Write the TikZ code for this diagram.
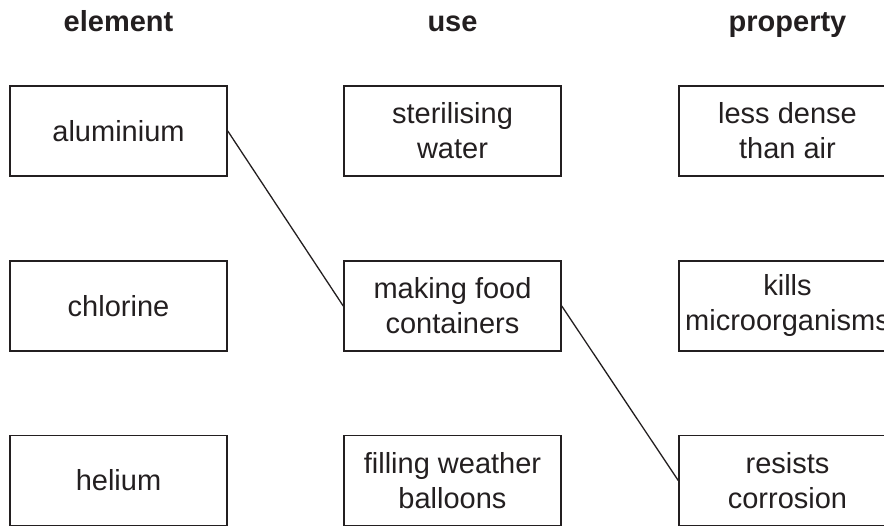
\documentclass[tikz,border=0pt]{standalone}
\usepackage{fontspec}
\setmainfont{Liberation Sans}
\definecolor{ink}{HTML}{231F20}
\begin{document}
\begin{tikzpicture}[x=1pt,y=-1pt,
  box/.style={draw=ink,line width=1.5pt,minimum width=217pt,minimum height=90pt,
    inner sep=0pt,align=center,font=\fontsize{29}{35}\selectfont,text=ink},
  head/.style={anchor=base,font=\fontsize{29}{35}\selectfont\bfseries,text=ink},
  link/.style={draw=ink,line width=1.3pt}]
\useasboundingbox (0,0) rectangle (884,526);
\node[head] (h1) at (118.5,32) {element};
\node[head] (h2) at (452.5,32) {use};
\node[head] (h3) at (787.5,32) {property};
\node[box] (al) at (118.5,131) {aluminium};
\node[box] (cl) at (118.5,306) {chlorine};
\node[box] (he) at (118.5,480.5) {helium};
\node[box] (st) at (452.5,131) {sterilising\\water};
\node[box] (mk) at (452.5,306) {making food\\containers};
\node[box] (fw) at (452.5,480.5) {filling weather\\balloons};
\node[box] (ld) at (787.5,131) {less dense\\than air};
\node[box] (km) at (787.5,306) {kills\\microorganisms};
\node[box] (rc) at (787.5,480.5) {resists\\corrosion};
\draw[link] (al.east) -- (mk.west);
\draw[link] (mk.east) -- (rc.west);
\end{tikzpicture}
\end{document}
